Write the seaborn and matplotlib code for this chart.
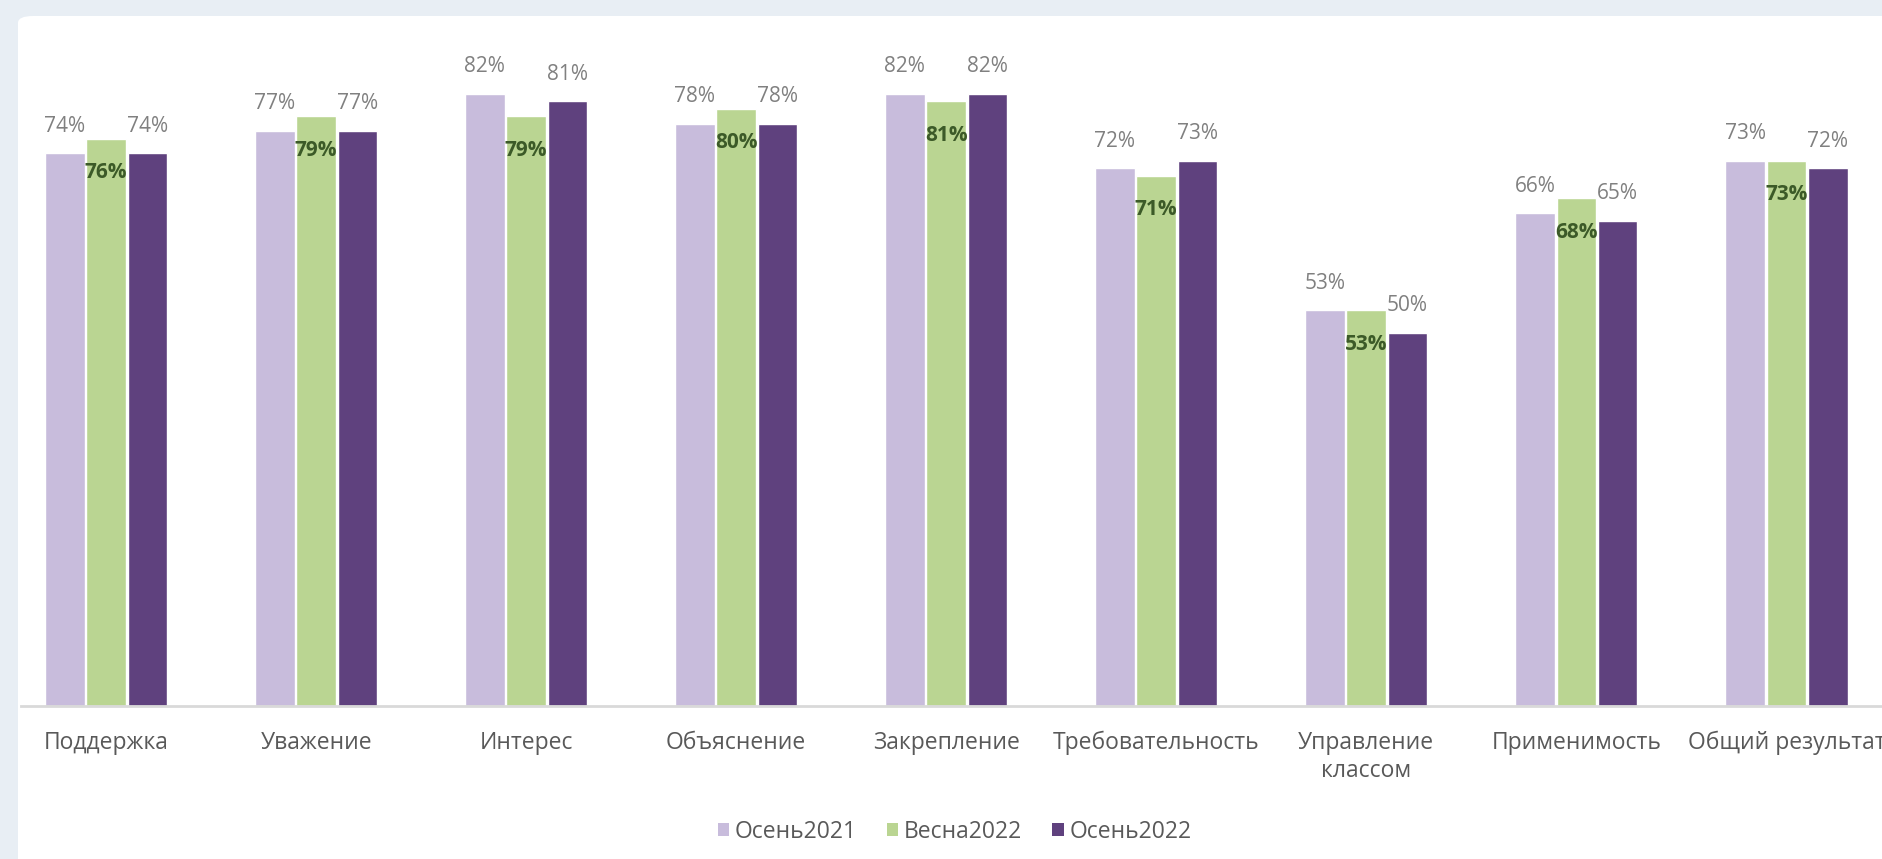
import matplotlib
matplotlib.use("Agg")
import matplotlib.pyplot as plt
from matplotlib.patches import Patch, FancyBboxPatch
import seaborn as sns
import pandas as pd

categories = ["Поддержка", "Уважение", "Интерес", "Объяснение", "Закрепление",
              "Требовательность", "Управление\nклассом", "Применимость", "Общий результат"]
series_names = ["Осень2021", "Весна2022", "Осень2022"]
autumn2021 = [74, 77, 82, 78, 82, 72, 53, 66, 73]
spring2022 = [76, 79, 79, 80, 81, 71, 53, 68, 73]
autumn2022 = [74, 77, 81, 78, 82, 73, 50, 65, 72]
colors = ["#c8bcdc", "#bad592", "#5f417e"]

rows = []
for name, vals in zip(series_names, [autumn2021, spring2022, autumn2022]):
    for c, v in zip(categories, vals):
        rows.append({"cat": c, "series": name, "val": v})
df = pd.DataFrame(rows)

sns.set_theme(style="white")
plt.rcParams["font.family"] = ["Open Sans", "DejaVu Sans"]

W, H = 1883, 859
fig = plt.figure(figsize=(W / 100, H / 100), dpi=100)
fig.patch.set_facecolor("#e8eef4")
panel = FancyBboxPatch((18 / W, -0.05), 1.2, 1 - 16 / H + 0.05,
                       boxstyle="round,pad=0,rounding_size=0.008",
                       transform=fig.transFigure, facecolor="white",
                       edgecolor="none", zorder=-10)
fig.patches.append(panel)

ax = fig.add_axes([21 / W, 153 / H, 1 - 21 / W, 672 / H])
ax.set_zorder(5)
ax.set_facecolor("none")
sns.barplot(data=df, x="cat", y="val", hue="series", hue_order=series_names,
            order=categories, palette=colors, width=0.59, gap=0.04,
            saturation=1, legend=False, ax=ax)

ax.set_xlim(-0.405, 8.46)
ax.set_ylim(0, 90)
ax.set_xlabel("")
ax.set_ylabel("")
ax.set_yticks([])
for s in ["top", "left", "right"]:
    ax.spines[s].set_visible(False)
ax.spines["bottom"].set_color("#d9d9d9")
ax.spines["bottom"].set_linewidth(2)
ax.tick_params(axis="x", length=0, pad=18, labelsize=16.5, labelcolor="#595959")

for i, cont in enumerate(ax.containers):
    if i == 1:
        ax.bar_label(cont, labels=[f"{v}%" for v in spring2022], padding=-32,
                     fontsize=15, fontweight="bold", color="#3c5a28")
    else:
        vals = autumn2021 if i == 0 else autumn2022
        ax.bar_label(cont, labels=[f"{v}%" for v in vals], padding=12,
                     fontsize=15, color="#808080")

handles = [Patch(facecolor=c, edgecolor="none") for c in colors]
fig.legend(handles, series_names, loc="center", bbox_to_anchor=(0.507, 0.032),
           ncol=3, frameon=False, fontsize=16.5, handlelength=0.5, handleheight=0.5,
           handletextpad=0.25, columnspacing=1.3, labelcolor="#595959")

fig.savefig("out.png", dpi=100, facecolor=fig.get_facecolor())
